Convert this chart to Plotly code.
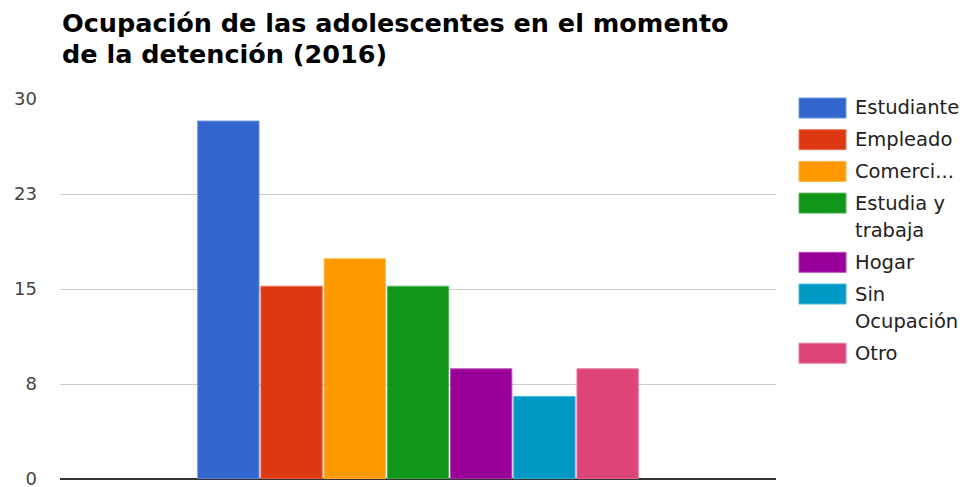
import plotly.graph_objects as go

# ---- data ----
categories = ["Estudiante", "Empleado", "Comerci...", "Estudia y<br>trabaja", "Hogar", "Sin<br>Ocupación", "Otro"]
values = [28.26, 15.22, 17.39, 15.22, 8.70, 6.52, 8.70]
colors = ["#3366cc", "#dc3912", "#ff9900", "#109618", "#990099", "#0099c6", "#dd4477"]
edge_colors = ["#7094db", "#e87459", "#ffb84d", "#58b45d", "#b84db8", "#4db8d7", "#e77c9c"]
tick_vals = [0, 7.5, 15, 22.5, 30]
tick_text = ["0", "8", "15", "23", "30"]
title_lines = ["Ocupación de las adolescentes en el momento", "de la detención (2016)"]

# page has an 8px body margin; work in reference-pixel coords and shift
OFF = 8
W, H = 974 - OFF, 487 - OFF
PL, PR, PT, PB = 60, 776, 99, 479  # plot box in reference pixels
L, R, T, B = PL - OFF, W - (PR - OFF), PT - OFF, H - (PB - OFF)
plot_w = PR - PL
plot_h = PB - PT

fig = go.Figure()
for name, v, c, ec in zip(categories, values, colors, edge_colors):
    fig.add_trace(go.Bar(
        x=[""], y=[v], name=name.replace("<br>", " "),
        marker=dict(color=c, line=dict(color=ec, width=1)),
        showlegend=False, hoverinfo="name+y",
    ))


def px_x(p):
    return (p - PL) / plot_w


def px_y(p):
    return (PB - p) / plot_h


# manual legend (wide swatches like the original)
y_cursor = 108.0
item_step = 31.7
line_step = 27.5
for name, c, ec in zip(categories, colors, edge_colors):
    lines = name.split("<br>")
    fig.add_shape(type="rect", xref="paper", yref="paper",
                  x0=px_x(799), x1=px_x(846), y0=px_y(y_cursor + 10), y1=px_y(y_cursor - 10),
                  fillcolor=c, line=dict(color=ec, width=1))
    for i, ln in enumerate(lines):
        fig.add_annotation(xref="paper", yref="paper", x=px_x(855), y=px_y(y_cursor + i * line_step),
                           text=ln, showarrow=False, xanchor="left", yanchor="middle",
                           xshift=-2, font=dict(family="DejaVu Sans", size=19.5, color="#222222"))
    y_cursor += item_step + (len(lines) - 1) * line_step

# title as two separate lines
for i, ln in enumerate(title_lines):
    fig.add_annotation(xref="paper", yref="paper", x=px_x(62), y=px_y(23 + i * 31.5),
                       text="<b>" + ln + "</b>", showarrow=False, xanchor="left", yanchor="middle",
                       xshift=-2, font=dict(family="DejaVu Sans", size=25.5, color="#000000"))

fig.update_layout(
    width=W, height=H,
    margin=dict(l=L, r=R, t=T, b=B, autoexpand=False),
    paper_bgcolor="white", plot_bgcolor="white",
    barmode="group", bargap=0.382, bargroupgap=0.03,
    font=dict(family="DejaVu Sans", color="#444444"),
    xaxis=dict(showticklabels=False, showgrid=False, zeroline=False, showline=False, fixedrange=True),
    yaxis=dict(range=[0, 30], tickvals=tick_vals, ticktext=tick_text, automargin=False,
               showgrid=True, gridcolor="#cccccc", gridwidth=1,
               zeroline=True, zerolinecolor="#333333", zerolinewidth=2,
               showline=False, ticks="", ticklabelstandoff=22, ticklabeloverflow="allow",
               tickfont=dict(family="DejaVu Sans", size=18, color="#444444")),
)

fig.write_html("out.html")
